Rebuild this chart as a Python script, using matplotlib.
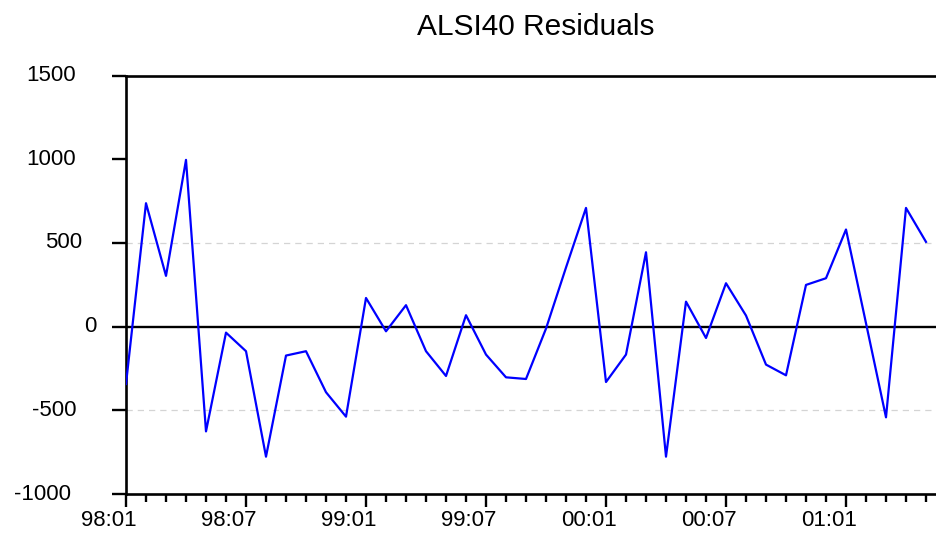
import matplotlib
matplotlib.use("Agg")
import matplotlib.pyplot as plt
import matplotlib.transforms as mtransforms

plt.rcParams["font.family"] = ["Liberation Sans", "DejaVu Sans"]

# resíduos mensais, 98:01 .. 01:05
residuos = [-343, 737, 303, 996, -626, -36, -147, -777, -173, -147, -392, -538,
            171, -28, 128, -147, -295, 68, -167, -303, -313, -12, 353, 709,
            -331, -167, 444, -777, 149, -68, 259, 66, -227, -291, 249, 289,
            580, 20, -542, 709, 506]
rotulos_x = ["98:01", "98:07", "99:01", "99:07", "00:01", "00:07", "01:01"]
ticks_y = [1500, 1000, 500, 0, -500, -1000]
# deslocamento horizontal (px) de cada rótulo do eixo y, relativo ao eixo
desloc_y = [-50, -50, -44, -29, -49, -55]

meses = list(range(len(residuos)))

fig = plt.figure(figsize=(9.37, 5.34), dpi=100)
ax = fig.add_axes([126 / 937, 1 - 494 / 534, 1 - 126 / 937, (494 - 75.5) / 534])

for g in (500, -500):
    ax.axhline(g, color="#d4d4d4", linewidth=0.9, linestyle=(0, (5, 4)), zorder=1)
ax.axhline(0, color="black", linewidth=1.7, zorder=2)
ax.plot(meses, residuos, color="#0000ff", linewidth=1.6, zorder=3)

ax.set_xlim(0, 40.55)
ax.set_ylim(-1000, 1500)

ax.spines["right"].set_visible(False)
for lado in ("left", "bottom", "top"):
    ax.spines[lado].set_linewidth(1.9)

ax.set_xticks(range(0, len(residuos), 6))
ax.set_xticklabels(rotulos_x, fontsize=16)
ax.set_xticks(meses, minor=True)
ax.tick_params(axis="x", which="major", direction="out", length=9.5, width=1.7, pad=2)
ax.tick_params(axis="x", which="minor", direction="out", length=6, width=1.7)

offset = mtransforms.ScaledTranslation(-17 / 100, 0, fig.dpi_scale_trans)
for lab in ax.get_xticklabels():
    lab.set_transform(lab.get_transform() + offset)

ax.set_yticks(ticks_y)
ax.set_yticklabels([])
ax.tick_params(axis="y", direction="out", length=10, width=1.7)
trans_y = mtransforms.blended_transform_factory(ax.transAxes, ax.transData)
for v, dx in zip(ticks_y, desloc_y):
    t = mtransforms.offset_copy(trans_y, fig=fig, x=dx / 100 * 72, y=0, units="points")
    ax.text(0, v, str(v), transform=t, ha="right", va="center", fontsize=16)

fig.text(536 / 937, 1 - 27 / 534, "ALSI40 Residuals", ha="center", va="center", fontsize=21.5)

fig.savefig("out.png", dpi=100)
